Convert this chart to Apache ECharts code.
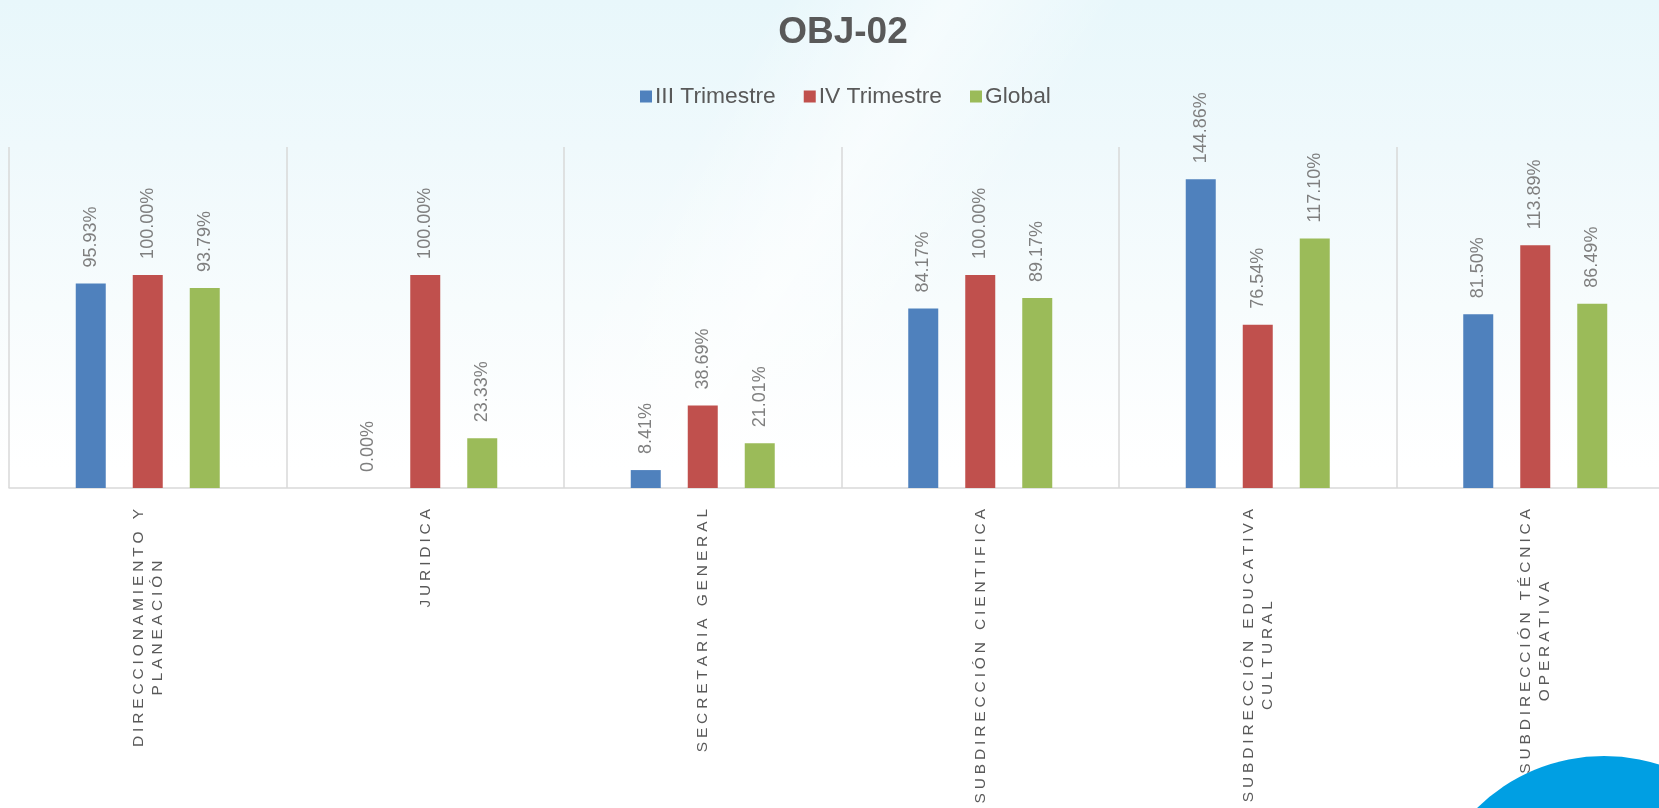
<!DOCTYPE html>
<html>
<head>
<meta charset="utf-8">
<script src="https://cdn.jsdelivr.net/npm/echarts@6/dist/echarts.min.js"></script>
<style>
  html, body { margin: 0; padding: 0; }
  #chart {
    width: 1659px; height: 808px;
    background:
      linear-gradient(122deg, rgba(255,255,255,0) 0%, rgba(255,255,255,0) 36%, rgba(255,255,255,0.55) 44%, rgba(255,255,255,0) 52%),
      linear-gradient(to bottom, #e8f7fb 0%, #eff9fc 18%, #f7fcfd 38%, #ffffff 58%, #ffffff 100%);
  }
</style>
</head>
<body>
<div id="chart"></div>
<script>
const titleText = 'OBJ-02';
const categories = [
  'DIRECCIONAMIENTO Y\nPLANEACIÓN',
  'JURIDICA',
  'SECRETARIA GENERAL',
  'SUBDIRECCIÓN CIENTIFICA',
  'SUBDIRECCIÓN EDUCATIVA\nCULTURAL',
  'SUBDIRECCIÓN TÉCNICA\nOPERATIVA'
];
const seriesNames = ['III Trimestre', 'IV Trimestre', 'Global'];
const trimestreIII = [95.93, 0.00, 8.41, 84.17, 144.86, 81.50];
const trimestreIV = [100.00, 100.00, 38.69, 100.00, 76.54, 113.89];
const globalValues = [93.79, 23.33, 21.01, 89.17, 117.10, 86.49];
const colors = ['#4f81bd', '#c0504d', '#9bbb59'];

const FONT = '"Liberation Sans", Arial, sans-serif';

function spaceOut(line) {
  return line.split(' ').map(w => Array.from(w).join('\u2005')).join('\u2005 \u2005');
}

const chart = echarts.init(document.getElementById('chart'), null, { renderer: 'canvas' });

const valueLabel = {
  show: true,
  position: 'top',
  rotate: 90,
  align: 'left',
  verticalAlign: 'middle',
  distance: 16,
  fontFamily: FONT,
  fontSize: 18,
  color: '#7f7f7f',
  formatter: p => p.value.toFixed(2) + '%'
};

const dataSets = [trimestreIII, trimestreIV, globalValues];

chart.setOption({
  backgroundColor: 'transparent',
  animation: false,
  title: {
    text: titleText,
    left: 838,
    top: 9,
    textAlign: 'center',
    textStyle: { fontFamily: FONT, fontSize: 37, fontWeight: 'bold', color: '#595959' }
  },
  legend: {
    data: seriesNames,
    left: 635,
    top: 80,
    itemWidth: 12,
    itemHeight: 12,
    itemGap: 28,
    icon: 'rect',
    textStyle: { fontFamily: FONT, fontSize: 22.8, color: '#595959', padding: [0, 0, 0, -2] }
  },
  graphic: [{
    type: 'circle',
    z: -10,
    silent: true,
    shape: { cx: 1604, cy: 937, r: 181 },
    style: { fill: '#009fe3' }
  }],
  grid: { left: 9, width: 1665, top: 147, bottom: 320, containLabel: false, outerBoundsMode: 'none' },
  xAxis: {
    type: 'category',
    data: categories,
    axisLine: { show: true, lineStyle: { color: '#d9d9d9', width: 1.5 } },
    axisTick: { show: false },
    splitLine: { show: true, lineStyle: { color: '#d9d9d9', width: 1.5 } },
    axisLabel: {
      interval: 0,
      rotate: 90,
      margin: 21,
      hideOverlap: false,
      fontFamily: FONT,
      fontSize: 15.5,
      color: '#595959',
      formatter: v => v.split('\n').map(l => '{c|' + spaceOut(l) + '}').join('\n'),
      rich: {
        c: { align: 'center', fontFamily: FONT, fontSize: 15.5, color: '#595959', lineHeight: 19 }
      }
    }
  },
  yAxis: {
    type: 'value',
    min: 0,
    max: 160,
    interval: 20,
    show: false,
    splitLine: { show: false }
  },
  series: seriesNames.map((name, i) => ({
    name,
    type: 'bar',
    data: dataSets[i],
    barWidth: 30,
    barGap: '90%',
    itemStyle: { color: colors[i] },
    label: valueLabel
  }))
});
</script>
</body>
</html>
